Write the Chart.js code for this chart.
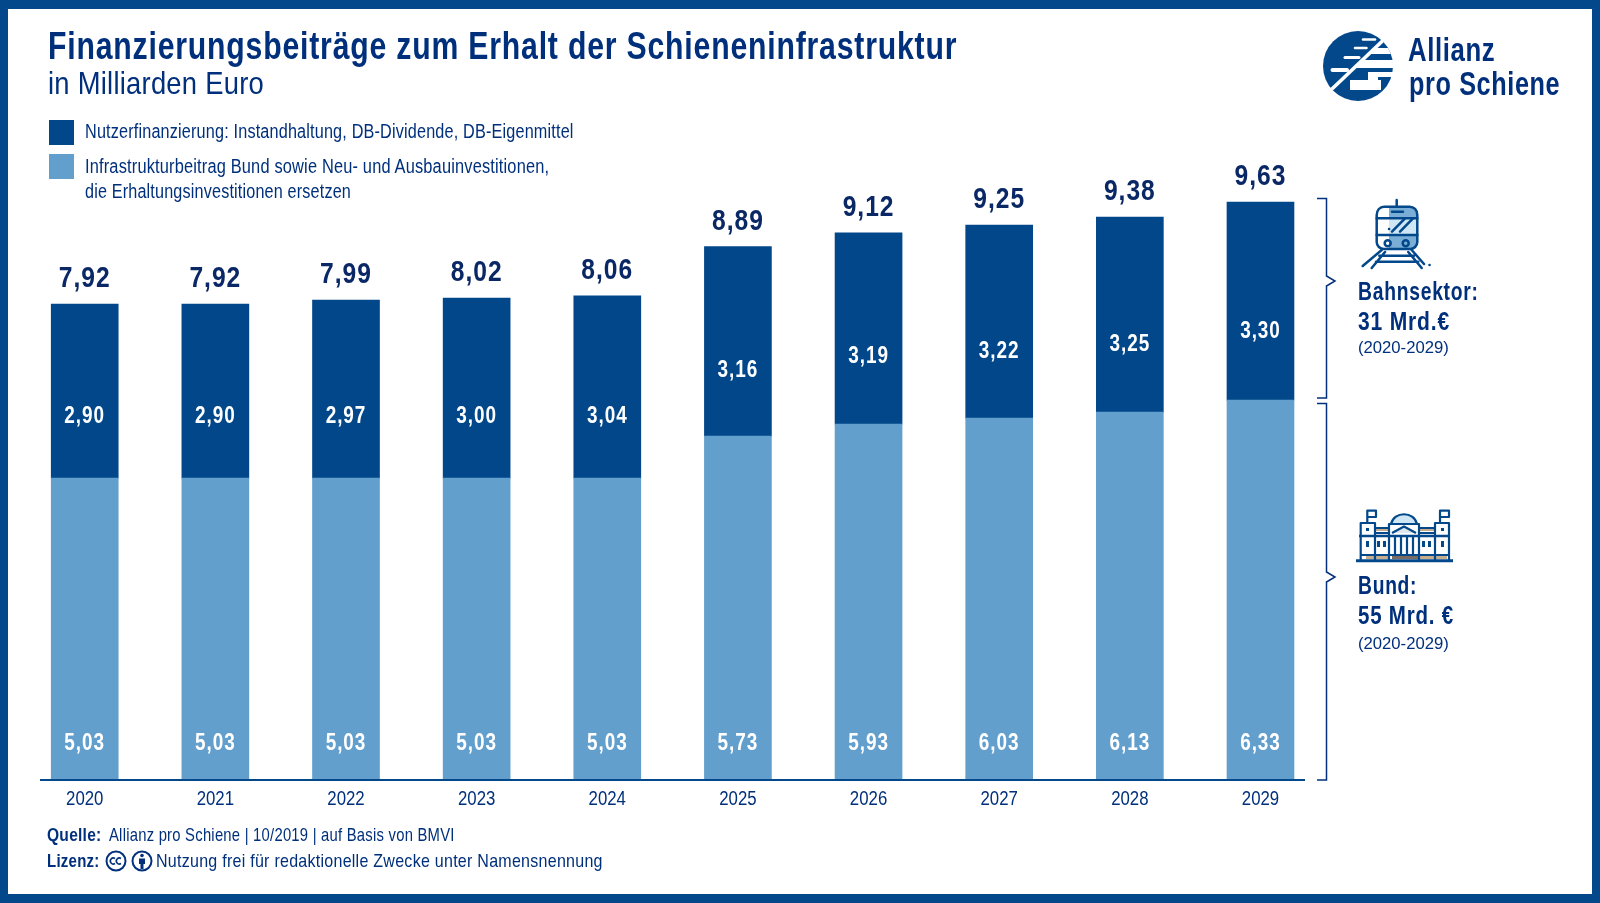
<!DOCTYPE html>
<html lang="de">
<head>
<meta charset="utf-8">
<title>Finanzierungsbeiträge</title>
<script src="https://cdn.jsdelivr.net/npm/chart.js@4"></script>
<style>
html, body { margin: 0; padding: 0; background: #fff; }
#frame { position: relative; width: 1600px; height: 903px; overflow: hidden; font-family: "Liberation Sans", sans-serif; color: #00307c; }
#rand { position: absolute; left: 0; top: 0; width: 1584px; height: 885px; border: solid #02488b; border-width: 9px 8px; }
canvas { position: absolute; left: 0; top: 0; }
svg { position: absolute; left: 0; top: 0; }
/* die Schrift im Original ist schmal, daher horizontal gestaucht */
.t { position: absolute; white-space: nowrap; transform-origin: left top; transform: scaleX(var(--sx, 1)); }
.titel { left: 48px; top: 24px; font-size: 39px; font-weight: bold; letter-spacing: 1.05px; --sx: .774; }
.sub { left: 48px; top: 65px; font-size: 32px; letter-spacing: .3px; --sx: .855; }
.leg { left: 85px; font-size: 19.5px; letter-spacing: .2px; }
.box { position: absolute; left: 49px; width: 25px; height: 25px; }
.seite { left: 1358px; font-size: 26px; font-weight: bold; letter-spacing: 1px; }
.zeit { left: 1358px; font-size: 17px; --sx: .98; }
.logo { left: 1408px; font-size: 33px; font-weight: bold; letter-spacing: .8px; --sx: .78; }
.fuss { left: 47px; font-size: 19px; letter-spacing: .3px; }
</style>
</head>
<body>
<div id="frame">
  <canvas id="grafik" width="1600" height="903"></canvas>
  <div id="rand"></div>
  <div class="t titel">Finanzierungsbeiträge zum Erhalt der Schieneninfrastruktur</div>
  <div class="t sub">in Milliarden Euro</div>

  <div class="box" style="top:120px;background:#02478a"></div>
  <div class="t leg" style="top:120px;--sx:.832" id="leg1"></div>
  <div class="box" style="top:154px;background:#639fcd"></div>
  <div class="t leg" style="top:155px;--sx:.841" id="leg2a"></div>
  <div class="t leg" style="top:180px;--sx:.83" id="leg2b"></div>

  <div class="t logo" style="top:31px">Allianz</div>
  <div class="t logo" style="top:65px;left:1409px;--sx:.765">pro Schiene</div>

  <div class="t seite" style="top:276px;--sx:.742">Bahnsektor:</div>
  <div class="t seite" style="top:306px;--sx:.81">31 Mrd.€</div>
  <div class="t zeit" style="top:338px">(2020-2029)</div>
  <div class="t seite" style="top:570px;--sx:.74">Bund:</div>
  <div class="t seite" style="top:600px;--sx:.788">55 Mrd. €</div>
  <div class="t zeit" style="top:634px">(2020-2029)</div>

  <div class="t fuss" style="top:824px;--sx:.82"><b>Quelle:</b></div>
  <div class="t fuss" style="top:824px;left:109px;--sx:.78">Allianz pro Schiene | 10/2019 | auf Basis von BMVI</div>
  <div class="t fuss" style="top:850px;--sx:.79"><b>Lizenz:</b></div>
  <div class="t fuss" style="top:850px;left:156px;--sx:.844">Nutzung frei für redaktionelle Zwecke unter Namensnennung</div>

  <svg width="1600" height="903" viewBox="0 0 1600 903" fill="none">
    <!-- Klammern -->
    <path d="M1317 198.5H1326.5V276L1335 281L1326.5 286V398H1317" stroke="#02307c" stroke-width="1.5"/>
    <path d="M1317 403.5H1326.5V572L1335 577L1326.5 582V780H1317" stroke="#02307c" stroke-width="1.5"/>

    <!-- Logo -->
    <circle cx="1358" cy="66" r="35" fill="#02488b"/>
    <g fill="#fff">
      <path d="M1375 48H1388L1391 54H1368Z"/>
      <path d="M1364 60H1394V68H1356Z"/>
      <path d="M1368 72H1394V77H1378V81H1368Z"/>
      <rect x="1350" y="80" width="31" height="10"/>
    </g>
    <path d="M1331.7 89.3L1382.7 40.7" stroke="#fff" stroke-width="3.6"/>
    <g stroke="#fff" stroke-linecap="round">
      <path d="M1363 39.5H1375" stroke-width="2.5"/>
      <path d="M1355 48H1366.5" stroke-width="2.5"/>
      <path d="M1345 57.5H1359" stroke-width="3"/>
      <path d="M1332.5 70H1347" stroke-width="4"/>
    </g>

    <!-- Zug -->
    <path d="M1389 207H1408C1414 207 1417 211 1417 216V218H1389Z" fill="#7aaed6"/>
    <rect x="1389" y="218" width="28" height="17" fill="#cfe6f4"/>
    <path d="M1389 235H1417V242C1417 246 1414 249 1410 249H1389Z" fill="#7aaed6"/>
    <g stroke="#02488b" stroke-width="2.5" stroke-linecap="round" stroke-linejoin="round">
      <path d="M1384 206.7H1409.5C1414 206.7 1417.3 210 1417.3 215V242C1417.3 246 1414 249 1410 249H1384C1380 249 1376.7 246 1376.7 242V215C1376.7 210 1380 206.7 1384 206.7Z"/>
      <path d="M1376.7 218.3H1417.3M1376.7 235H1417.3M1396.7 200V206.7"/>
      <path d="M1392 211.7H1403M1392 231.7L1405 218.3M1400 231.7L1413 218.3"/>
      <path d="M1389 229H1389.1"/>
      <circle cx="1387.7" cy="243.3" r="3"/><circle cx="1405.7" cy="243.3" r="3"/>
      <path d="M1381.7 250L1362.7 266M1385 252L1371.7 268M1411.7 250L1424 264M1408.3 252L1421.7 268M1429.5 265H1429.6M1379.3 255.7H1414M1376 261.7H1418.3"/>
    </g>

    <!-- Reichstag -->
    <path d="M1375 528H1389V531H1375ZM1419 528H1435V531H1419Z" fill="#c8ad8c"/>
    <path d="M1366 556H1389V559H1366ZM1420 556H1447V559H1420Z" fill="#c8ad8c"/>
    <path d="M1392 556H1418V559H1392Z" fill="#7c6b60"/>
    <path d="M1391 524C1394 511 1414 511 1417 524Z" fill="#cfe6f4"/>
    <path d="M1392 533L1404 526.5L1416 533Z" fill="#dfe7ee"/>
    <g stroke="#02488b" stroke-width="2.2" stroke-linejoin="round">
      <path d="M1356 560.7H1453" stroke-width="3"/>
      <path d="M1360.7 560V523H1375V560M1435 560V523H1449V560"/>
      <path d="M1375 528H1389M1419 528H1435M1375 533H1389M1419 533H1435"/>
      <path d="M1389 560V524H1419V560"/>
      <path d="M1391 524C1394 511 1414 511 1417 524"/>
      <path d="M1392 533L1404 526.5L1416 533"/>
      <path d="M1359 536H1450" stroke-width="2.6"/>
      <path d="M1361 555H1449"/>
      <path d="M1367.3 523V510.7H1376V517H1367.3M1440 523V510.7H1449V517H1440"/>
      <path d="M1395 536V555M1401 536V555M1407 536V555M1413 536V555"/>
    </g>
    <g fill="#02488b">
      <rect x="1366" y="528" width="3" height="3"/><rect x="1441" y="528" width="3" height="3"/>
      <rect x="1366" y="541" width="3" height="6"/><rect x="1441" y="541" width="3" height="6"/>
      <rect x="1377" y="541" width="3" height="6"/><rect x="1383" y="541" width="3" height="6"/>
      <rect x="1422" y="541" width="3" height="6"/><rect x="1428" y="541" width="3" height="6"/>
    </g>

    <!-- Lizenz-Symbole -->
    <g stroke="#02307c" stroke-width="2">
      <circle cx="116" cy="861" r="9.5"/>
      <circle cx="142" cy="861" r="9.5"/>
      <path d="M115 858.5A3 3 0 1 0 115 863.5M121 858.5A3 3 0 1 0 121 863.5" stroke-width="1.6"/>
    </g>
    <circle cx="142" cy="855.5" r="1.8" fill="#02307c"/>
    <path d="M139 858.5H145V864H143.5V869H140.5V864H139Z" fill="#02307c"/>
  </svg>
</div>

<script>
// Werte aus der Grafik
const jahre = ['2020','2021','2022','2023','2024','2025','2026','2027','2028','2029'];
const nutzer = [2.90, 2.90, 2.97, 3.00, 3.04, 3.16, 3.19, 3.22, 3.25, 3.30];
const bund = [5.03, 5.03, 5.03, 5.03, 5.03, 5.73, 5.93, 6.03, 6.13, 6.33];
const summe = [7.92, 7.92, 7.99, 8.02, 8.06, 8.89, 9.12, 9.25, 9.38, 9.63];
const legende = ['Nutzerfinanzierung: Instandhaltung, DB-Dividende, DB-Eigenmittel',
  'Infrastrukturbeitrag Bund sowie Neu- und Ausbauinvestitionen,',
  'die Erhaltungsinvestitionen ersetzen'];

// Abstand der dunklen Beschriftung vom Segmentfuss, in Pixeln
const nutzerLift = [62, 62, 62, 62, 62, 66, 68, 67, 68, 69];

document.getElementById('leg1').textContent = legende[0];
document.getElementById('leg2a').textContent = legende[1];
document.getElementById('leg2b').textContent = legende[2];

const komma = v => v.toFixed(2).replace('.', ',');

function schmal(ctx, text, x, y, sx) {
  ctx.save();
  ctx.translate(x, y);
  ctx.scale(sx, 1);
  ctx.fillText(text, 0, 0);
  ctx.restore();
}

const beschriftung = {
  id: 'beschriftung',
  afterDatasetsDraw(chart) {
    const ctx = chart.ctx;
    const bundBars = chart.getDatasetMeta(0).data;
    const nutzerBars = chart.getDatasetMeta(1).data;
    const y0 = chart.scales.y.getPixelForValue(0);
    const fam = '"Liberation Sans", sans-serif';
    ctx.save();
    ctx.textAlign = 'center';
    ctx.textBaseline = 'middle';
    ctx.letterSpacing = '1.2px';
    jahre.forEach((j, i) => {
      const x = bundBars[i].x;
      ctx.fillStyle = '#fff';
      ctx.font = 'bold 24px ' + fam;
      schmal(ctx, komma(bund[i]), x, y0 - 37, .79);
      schmal(ctx, komma(nutzer[i]), x, bundBars[i].y - nutzerLift[i], .79);
      ctx.fillStyle = '#0a2766';
      ctx.font = 'bold 30px ' + fam;
      schmal(ctx, komma(summe[i]), x, nutzerBars[i].y - 25, .82);
      // Jahreszahlen unter der Achse
      ctx.fillStyle = '#00307c';
      ctx.font = '20px ' + fam;
      ctx.letterSpacing = '0px';
      schmal(ctx, chart.scales.x.getLabelForValue(i), chart.scales.x.getPixelForTick(i), y0 + 19, .84);
      ctx.letterSpacing = '1.2px';
    });
    // Grundlinie, laeuft nicht ueber die ganze Kategorienbreite
    ctx.strokeStyle = '#02488b';
    ctx.lineWidth = 2;
    ctx.beginPath();
    ctx.moveTo(40, y0);
    ctx.lineTo(1305, y0);
    ctx.stroke();
    ctx.restore();
  }
};

new Chart(document.getElementById('grafik').getContext('2d'), {
  type: 'bar',
  data: {
    labels: jahre,
    datasets: [
      { label: legende[1], data: bund, backgroundColor: '#639fcd', stack: 'a' },
      { label: legende[0], data: nutzer, backgroundColor: '#02478a', stack: 'a' }
    ]
  },
  options: {
    responsive: false,
    animation: false,
    layout: { padding: { left: 19.4, right: 274.2, top: 0, bottom: 0 } },
    plugins: { legend: { display: false }, tooltip: { enabled: false } },
    datasets: { bar: { barThickness: 67 } },
    scales: {
      x: {
        stacked: true,
        grid: { display: false },
        border: { display: false },
        ticks: { display: false },
        afterFit(scale) { scale.height = 123; }
      },
      y: { stacked: true, display: false, min: 0, max: 13 }
    }
  },
  plugins: [beschriftung]
});
</script>
</body>
</html>
